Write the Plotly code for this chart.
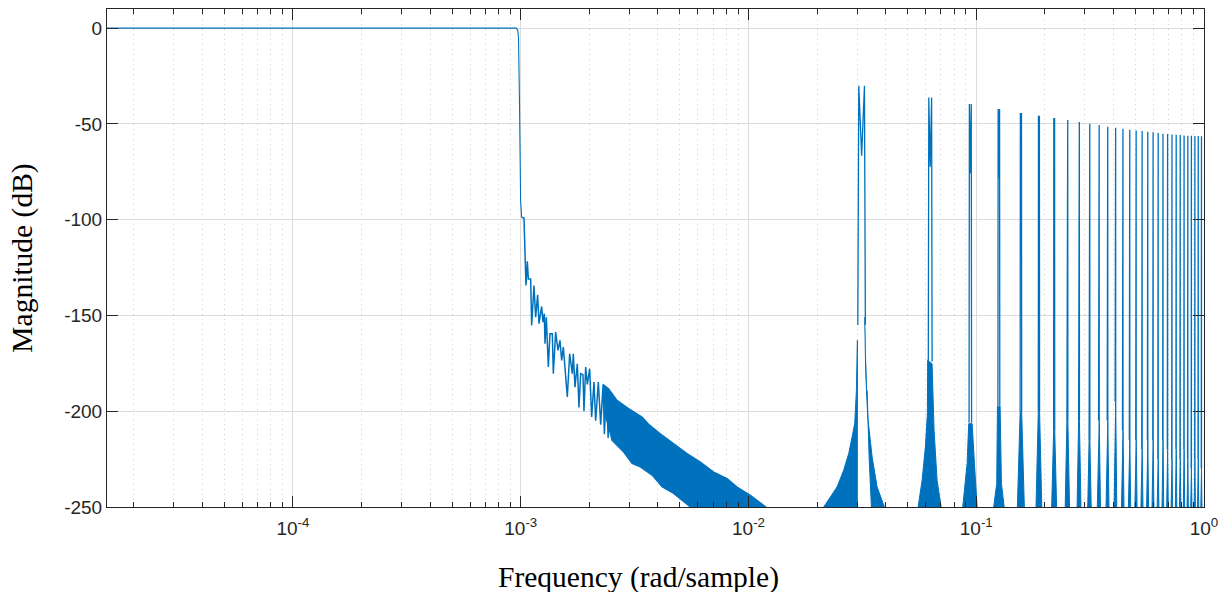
import math
import plotly.graph_objects as go

# ---------------- data ----------------
# passband and transition (rad/sample, dB)
pass_freq = [1.526e-5, 9.55e-4, 9.70e-4, 9.78e-4, 9.88e-4, 9.99e-4, 1.0094e-3]
pass_db = [0.0, 0.0, -1.0, -5.0, -40.0, -90.0, -98.7]

# sparse stopband ripple just after the cutoff
ripple_freq = [1.0094e-3, 1.0335e-3, 1.0547e-3, 1.0690e-3, 1.0799e-3, 1.1056e-3, 1.1169e-3,
               1.1435e-3, 1.1629e-3, 1.1867e-3, 1.2029e-3, 1.2357e-3, 1.2525e-3, 1.2695e-3,
               1.2781e-3, 1.2954e-3, 1.3219e-3, 1.3443e-3, 1.3764e-3, 1.3904e-3, 1.4236e-3,
               1.4576e-3, 1.4873e-3, 1.5126e-3, 1.5383e-3, 1.5751e-3, 1.6019e-3, 1.6401e-3,
               1.6849e-3, 1.7020e-3, 1.7309e-3, 1.7722e-3, 1.8024e-3, 1.8331e-3, 1.8768e-3,
               1.8958e-3, 1.9280e-3, 1.9608e-3, 2.0077e-3, 2.0486e-3, 2.0975e-3, 2.1334e-3,
               2.1917e-3, 2.2440e-3, 2.3000e-3, 2.3300e-3, 2.3800e-3, 2.4200e-3, 2.4700e-3,
               2.5200e-3]
ripple_db = [-98.7, -99.1, -134.4, -121.7, -130.9, -130.9, -155.2,
             -134.4, -150.9, -139.2, -154.3, -145.3, -153.5, -149.1,
             -164.8, -150.9, -176.9, -159.6, -159.6, -180.4, -158.7,
             -168.2, -163.0, -173.5, -166.5, -180.4, -192.6, -170.0,
             -180.4, -170.0, -187.4, -175.2, -198.0, -180.4, -181.0,
             -200.0, -176.9, -186.0, -177.8, -203.0, -184.8, -205.0,
             -184.8, -207.0, -186.0, -212.0, -188.0, -214.0, -190.0,
             -215.0]

# dense ripple band: upper and lower envelopes
band_upper_freq = [2.3000e-3, 2.4322e-3, 2.6475e-3, 2.9776e-3, 3.4096e-3, 3.6454e-3,
                   4.1019e-3, 4.6924e-3, 5.3736e-3, 6.1448e-3, 7.0356e-3, 8.0538e-3, 8.9105e-3,
                   1.0193e-2, 1.1661e-2, 1.2231e-2]
band_upper_db = [-186.0, -188.2, -194.3, -198.6, -203.0, -206.8,
                 -211.7, -216.9, -222.1, -226.5, -231.7, -235.1, -239.5,
                 -243.9, -249.1, -251.0]
band_lower_freq = [2.3300e-3, 2.5177e-3, 2.8306e-3, 3.0817e-3, 3.3516e-3,
                   3.7723e-3, 4.1736e-3, 4.6924e-3, 5.1087e-3, 5.5552e-3]
band_lower_db = [-200.0, -215.2, -221.3, -227.3, -229.1,
                 -233.4, -239.5, -243.0, -246.5, -250.0]

# resonance peaks
peak_freq = [0.0314, 0.0628, 0.0942, 0.1257, 0.1571, 0.1885, 0.2199, 0.2513, 0.2827, 0.3142,
             0.3456, 0.3770, 0.4084, 0.4398, 0.4712, 0.5027, 0.5341, 0.5655, 0.5969, 0.6283,
             0.6597, 0.6912, 0.7226, 0.7540, 0.7854, 0.8168, 0.8482, 0.8796, 0.9111, 0.9425,
             0.9739]
peak_db = [-30.1, -36.2, -39.6, -42.2, -44.3, -45.7, -46.9, -48.0, -49.0, -49.9,
           -50.6, -51.5, -52.0, -52.5, -53.0, -53.4, -53.7, -54.1, -54.4, -54.7,
           -55.1, -55.3, -55.5, -55.6, -55.8, -56.0, -56.2, -56.2, -56.3, -56.3,
           -56.5]
dip_db = [-66.6, -72.3, -75.8, -78.2, -80.5, -81.9, -83.1, -84.8, -84.8, -85.7,
          -87.4, -88.3, -88.3, -89.2, -89.2, -90.0, -90.0, -90.9, -91.8, -91.8,
          -91.8, -91.8, -91.8, -91.8, -92.3, -92.3, -92.3, -92.6, -92.6, -92.6,
          -92.6]
spike_base_db = [-155, -174, -206, -198, -200, -200, -210, -205, -205, -215,
                 -205, -205, -195, -210, -215, -215, -220, -215, -215, -225,
                 -215, -220, -225, -220, -225, -220, -225, -230, -225, -225,
                 -230]

# skirts of the first peaks (outline points)
skirt1a_freq = [0.02139, 0.02289, 0.02449, 0.02618, 0.02755, 0.02851, 0.02927, 0.02978, 0.03008, 0.03005]
skirt1a_db = [-250, -244.7, -239.5, -230.8, -222.1, -213.4, -206.5, -189.1, -163.0, -250]
skirt1b_freq = [0.03238, 0.03272, 0.03339, 0.03490, 0.03671, 0.03951, 0.03465, 0.03386, 0.03318]
skirt1b_db = [-150.9, -180.4, -203.0, -223.9, -239.5, -250, -250, -223.9, -189.1]
skirt2_freq = [0.05556, 0.05786, 0.05979, 0.06102, 0.06120, 0.06398, 0.06529, 0.06730, 0.07012]
skirt2_db = [-250, -236.0, -218.7, -201.3, -173.5, -175.2, -210.0, -236.0, -250]
skirt3_freq = [0.08723, 0.09120, 0.09268, 0.09594, 0.09820, 0.10090]
skirt3_db = [-250, -227.3, -206.5, -206.5, -227.3, -250]
skirt4_freq = [0.1193, 0.1230, 0.1239, 0.1273, 0.1290, 0.1326]
skirt4_db = [-250, -237.7, -197.8, -197.8, -237.7, -250]

# axes
x_tick_vals = [1e-4, 1e-3, 1e-2, 1e-1, 1]
x_tick_text = ['10<sup>-4</sup>', '10<sup>-3</sup>', '10<sup>-2</sup>', '10<sup>-1</sup>', '10<sup>0</sup>']
y_tick_vals = [-250, -200, -150, -100, -50, 0]
y_tick_text = ['-250', '-200', '-150', '-100', '-50', '0']
x_minor_vals = [m * 10.0 ** e for e in range(-5, 0) for m in range(2, 10)]
x_title = 'Frequency (rad/sample)'
y_title = 'Magnitude (dB)'

# ---------------- geometry / style ----------------
BLUE = '#0072BD'
SPIKE_HALF = 0.0009
SPIKE_FOOT = 0.0012
SKIRT_HALF = 0.0055
BOTTOM = -250

fig = go.Figure()

# passband
fig.add_trace(go.Scatter(x=pass_freq, y=pass_db, mode='lines',
                         line=dict(color=BLUE, width=1.1), hoverinfo='skip'))

# dense band
bx = band_upper_freq + [band_upper_freq[-1], band_lower_freq[-1]] + band_lower_freq[::-1]
by = band_upper_db + [BOTTOM - 5, BOTTOM - 5] + band_lower_db[::-1]
fig.add_trace(go.Scatter(x=bx, y=by, mode='lines', fill='toself',
                         fillcolor=BLUE, line=dict(color=BLUE, width=1.2),
                         hoverinfo='skip'))

# sparse ripple
fig.add_trace(go.Scatter(x=ripple_freq, y=ripple_db, mode='lines',
                         line=dict(color=BLUE, width=1.5), hoverinfo='skip'))

# skirts
kx, ky = [], []
for fx, fy in [(skirt1a_freq, skirt1a_db), (skirt1b_freq, skirt1b_db), (skirt2_freq, skirt2_db),
               (skirt3_freq, skirt3_db), (skirt4_freq, skirt4_db)]:
    kx += fx + [None]
    ky += fy + [None]
for f, b in zip(peak_freq[4:], spike_base_db[4:]):
    kx += [f - SKIRT_HALF, f - SPIKE_FOOT, f + SPIKE_FOOT, f + SKIRT_HALF, None]
    ky += [BOTTOM, b, b, BOTTOM, None]
fig.add_trace(go.Scatter(x=kx, y=ky, mode='lines', fill='toself',
                         fillcolor=BLUE, line=dict(color=BLUE, width=1),
                         hoverinfo='skip'))

# spikes
sx, sy = [], []
for f, h, d, b in zip(peak_freq, peak_db, dip_db, spike_base_db):
    sx += [f - SPIKE_FOOT, f - SPIKE_HALF, f, f + SPIKE_HALF, f + SPIKE_FOOT, None]
    sy += [b, h, d, h, b, None]
fig.add_trace(go.Scatter(x=sx, y=sy, mode='lines', line=dict(color=BLUE, width=1.3),
                         hoverinfo='skip'))

AX = '#262626'
tickfont = dict(family='Liberation Sans, Arial, sans-serif', size=19, color=AX)
titlefont = dict(family='Liberation Serif, Times New Roman, serif', size=29.5, color='#000000')

fig.update_layout(
    width=1227, height=592,
    margin=dict(l=107, r=23, t=9, b=85),
    paper_bgcolor='white', plot_bgcolor='white',
    showlegend=False,
    xaxis=dict(
        type='log', range=[math.log10(1.526e-5), 0],
        tickmode='array', tickvals=x_tick_vals, ticktext=x_tick_text,
        ticks='inside', ticklen=11, tickwidth=1, tickcolor=AX,
        showline=True, linecolor=AX, linewidth=1, mirror='allticks',
        showgrid=True, gridcolor='#dcdcdc', gridwidth=1, zeroline=False,
        minor=dict(tickmode='array', tickvals=x_minor_vals, ticks='inside', ticklen=5,
                   tickwidth=1, tickcolor=AX, showgrid=True, gridcolor='#cfcfcf',
                   gridwidth=1, griddash='1px,4px'),
        tickfont=tickfont, ticklabelstandoff=4,
    ),
    yaxis=dict(
        range=[-250, 10],
        tickmode='array', tickvals=y_tick_vals, ticktext=y_tick_text,
        ticks='inside', ticklen=11, tickwidth=1, tickcolor=AX,
        showline=True, linecolor=AX, linewidth=1, mirror='allticks',
        showgrid=True, gridcolor='#dcdcdc', gridwidth=1, zeroline=False,
        tickfont=tickfont,
        title=dict(text=y_title, font=titlefont, standoff=22),
    ),
    annotations=[dict(text=x_title, xref='paper', yref='paper', x=0.4843, y=-0.1413,
                      xanchor='center', yanchor='middle', showarrow=False, font=titlefont)],
)

fig.write_html('out.html')
